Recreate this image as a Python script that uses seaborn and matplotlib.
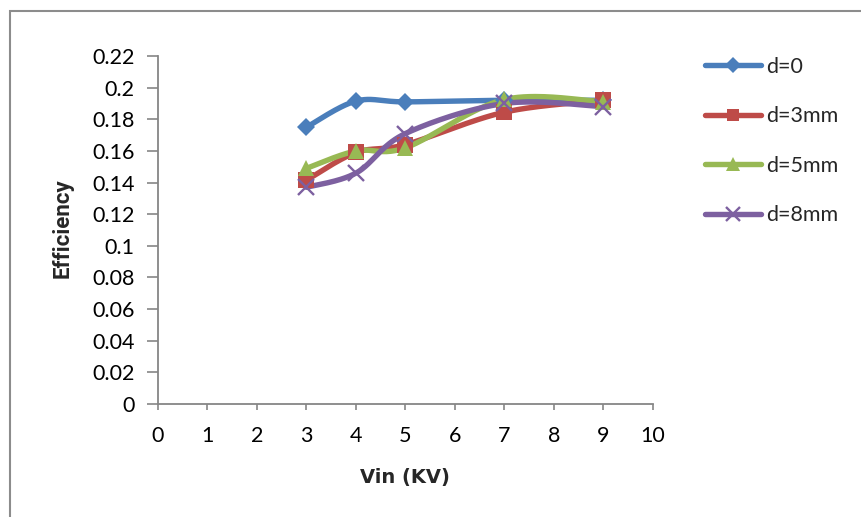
import numpy as np
import pandas as pd
import matplotlib
matplotlib.use("Agg")
import matplotlib.pyplot as plt
from matplotlib.lines import Line2D
from matplotlib.patches import Rectangle
import seaborn as sns

# ---- data ----
vin = [3, 4, 5, 7, 9]
eff_d0 = [0.175, 0.1915, 0.191, 0.192, 0.192]
eff_d3 = [0.1415, 0.159, 0.164, 0.1845, 0.192]
eff_d5 = [0.149, 0.160, 0.162, 0.1925, 0.191]
eff_d8 = [0.137, 0.146, 0.171, 0.190, 0.188]
series_labels = ["d=0", "d=3mm", "d=5mm", "d=8mm"]
x_ticks = list(range(0, 11))
y_ticks = [0, 0.02, 0.04, 0.06, 0.08, 0.1, 0.12, 0.14, 0.16, 0.18, 0.2, 0.22]
y_ticklabels = ["0", "0.02", "0.04", "0.06", "0.08", "0.1", "0.12", "0.14",
                "0.16", "0.18", "0.2", "0.22"]

colors = ["#4A7EBB", "#BE4B48", "#98B954", "#7D60A0"]
markers = ["D", "s", "^", "x"]
msizes = [9.5, 11, 12, 12]
LW = 3.9


def smooth(xs, ys, n=40):
    """Excel-style smoothed line (Catmull-Rom Bezier) through the data points."""
    P = np.column_stack([xs, ys]).astype(float)
    out = []
    m = len(P)
    for i in range(m - 1):
        p0 = P[i - 1] if i > 0 else P[i]
        p1 = P[i]
        p2 = P[i + 1]
        p3 = P[i + 2] if i + 2 < m else P[i + 1]
        c1 = p1 + (p2 - p0) / 6.0
        c2 = p2 - (p3 - p1) / 6.0
        t = np.linspace(0, 1, n)[:, None]
        seg = ((1 - t) ** 3) * p1 + 3 * ((1 - t) ** 2) * t * c1 + 3 * (1 - t) * t ** 2 * c2 + t ** 3 * p2
        out.append(seg if i == 0 else seg[1:])
    S = np.vstack(out)
    return S[:, 0], S[:, 1]


sns.set_theme(style="white")
plt.rcParams["font.family"] = ["Lato", "DejaVu Sans"]

fig = plt.figure(figsize=(8.62, 5.17), dpi=100)
ax = fig.add_axes([158 / 862, 1 - 404 / 517, (653 - 158) / 862, (404 - 56) / 517])

all_series = [eff_d0, eff_d3, eff_d5, eff_d8]
for lab, ys, c, mk, ms in zip(series_labels, all_series, colors, markers, msizes):
    sx, sy = smooth(vin, ys)
    df = pd.DataFrame({"x": sx, "y": sy})
    sns.lineplot(data=df, x="x", y="y", sort=False, estimator=None, ax=ax,
                 color=c, linewidth=LW, solid_capstyle="round", zorder=3)
    mew = 1.7 if mk == "x" else 0
    ax.plot(vin, ys, linestyle="none", marker=mk, markersize=ms, color=c,
            markeredgecolor=c, markeredgewidth=mew, zorder=4)

ax.set_xlim(0, 10)
ax.set_ylim(0, 0.22)
ax.set_xticks(x_ticks)
ax.set_yticks(y_ticks)
ax.set_yticklabels(y_ticklabels)
for s in ["top", "right"]:
    ax.spines[s].set_visible(False)
for s in ["left", "bottom"]:
    ax.spines[s].set_color("#868686")
    ax.spines[s].set_linewidth(1.3)
ax.tick_params(axis="y", direction="out", length=8, width=1.2, color="#868686",
               pad=9, labelsize=15.5, labelcolor="black", left=True)
ax.tick_params(axis="x", direction="out", length=4.5, width=1.2, color="#868686",
               pad=11, labelsize=15.5, labelcolor="black", bottom=True)
ax.set_xlabel("")
ax.set_ylabel("")
ax.grid(False)

fig.text(405 / 862, 1 - 478 / 517, "Vin (KV)", ha="center", va="center",
         fontsize=14, fontweight="bold", family=["DejaVu Sans"])
fig.text(63 / 862, 1 - 228 / 517, "Efficiency", ha="center", va="center",
         rotation=90, fontsize=16, fontweight="bold", family=["Roboto", "DejaVu Sans"])

handles = [Line2D([0], [0], color=c, linewidth=LW, marker=mk, markersize=ms * 0.85,
                  markeredgecolor=c, markeredgewidth=(1.7 if mk == "x" else 0),
                  solid_capstyle="round")
           for c, mk, ms in zip(colors, markers, msizes)]
fig.legend(handles, series_labels, loc="upper left",
           bbox_to_anchor=(705 / 862, 1 - 57 / 517), frameon=False,
           borderpad=0, borderaxespad=0, fontsize=15.5, handlelength=2.6,
           handletextpad=0.25, labelspacing=1.37)

# outer chart-area frame (left and top edges visible)
fig.patches.append(Rectangle((10 / 862, -0.2), 1.2, 1 - 11 / 517 + 0.2,
                             transform=fig.transFigure, fill=False,
                             edgecolor="#8c8c8c", linewidth=1.5, zorder=0))

fig.savefig("out.png", dpi=100)
